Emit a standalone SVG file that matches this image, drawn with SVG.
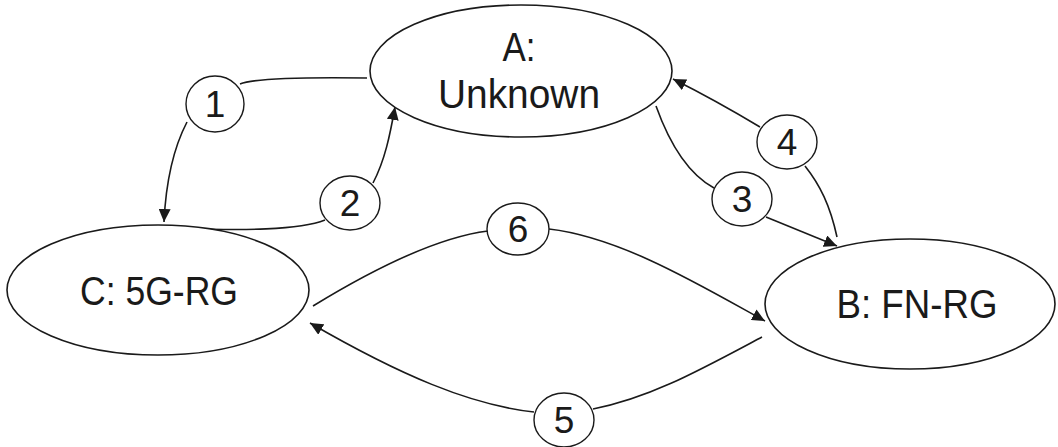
<svg xmlns="http://www.w3.org/2000/svg" width="1058" height="447" viewBox="0 0 1058 447">
<defs>
<marker id="arr" markerUnits="userSpaceOnUse" markerWidth="14" markerHeight="12" refX="13" refY="6" orient="auto">
<path d="M0,0 L13,6 L0,12 Z" fill="#1a1a1a"/>
</marker>
<style>
.node{fill:#fff;stroke:#1a1a1a;stroke-width:1.6}
.lbl{fill:#fff;stroke:#1a1a1a;stroke-width:1.4}
.t{font-family:"Liberation Sans",Arial,sans-serif;font-size:40px;fill:#1a1a1a;text-anchor:middle}
.n{font-family:"Liberation Sans",Arial,sans-serif;font-size:37px;fill:#1a1a1a;text-anchor:middle}
.c{fill:none;stroke:#1a1a1a;stroke-width:1.6}
</style>
</defs>
<rect width="1058" height="447" fill="#fff"/>
<g id="connectors">
<path class="c" d="M367,78 C300,77 255,78 240,84"/>
<path class="c" d="M187,122 C175,145 166,180 164,222" marker-end="url(#arr)"/>
<path class="c" d="M183,228 C240,231 300,230 325,220"/>
<path class="c" d="M373,183 C385,160 390,135 395,107" marker-end="url(#arr)"/>
<path class="c" d="M656,106 C670,145 690,175 714,188"/>
<path class="c" d="M766,217 L837,246" marker-end="url(#arr)"/>
<path class="c" d="M837,237 C830,205 820,185 805,166"/>
<path class="c" d="M760,127 Q715,100 673,79" marker-end="url(#arr)"/>
<path class="c" d="M313,306 C380,265 440,237 488,231"/>
<path class="c" d="M549,229 C620,237 700,285 765,321" marker-end="url(#arr)"/>
<path class="c" d="M762,337 C700,370 650,398 593,409"/>
<path class="c" d="M534,412 C470,405 400,375 310,323" marker-end="url(#arr)"/>
</g>
<g id="nodeA">
<ellipse class="node" cx="521" cy="71" rx="151" ry="66"/>
<text class="t" x="519" y="61" textLength="33" lengthAdjust="spacingAndGlyphs">A:</text>
<text class="t" x="519" y="108" textLength="162" lengthAdjust="spacingAndGlyphs">Unknown</text>
</g>
<g id="nodeB">
<ellipse class="node" cx="910" cy="304" rx="145" ry="65"/>
<text class="t" x="917" y="318" textLength="161" lengthAdjust="spacingAndGlyphs">B: FN-RG</text>
</g>
<g id="nodeC">
<ellipse class="node" cx="158" cy="290" rx="151" ry="65"/>
<text class="t" x="159" y="305" textLength="158" lengthAdjust="spacingAndGlyphs">C: 5G-RG</text>
</g>
<g id="label1"><ellipse class="lbl" cx="215" cy="104" rx="29" ry="28"/><text class="n" x="215" y="117">1</text></g>
<g id="label2"><ellipse class="lbl" cx="350" cy="203" rx="30" ry="27"/><text class="n" x="350" y="216">2</text></g>
<g id="label3"><ellipse class="lbl" cx="742" cy="199" rx="30" ry="27"/><text class="n" x="742" y="212">3</text></g>
<g id="label4"><ellipse class="lbl" cx="787" cy="142" rx="30" ry="27"/><text class="n" x="787" y="155">4</text></g>
<g id="label5"><ellipse class="lbl" cx="564" cy="420" rx="30" ry="27"/><text class="n" x="564" y="433">5</text></g>
<g id="label6"><ellipse class="lbl" cx="518" cy="229" rx="31" ry="26"/><text class="n" x="518" y="242">6</text></g>
</svg>
